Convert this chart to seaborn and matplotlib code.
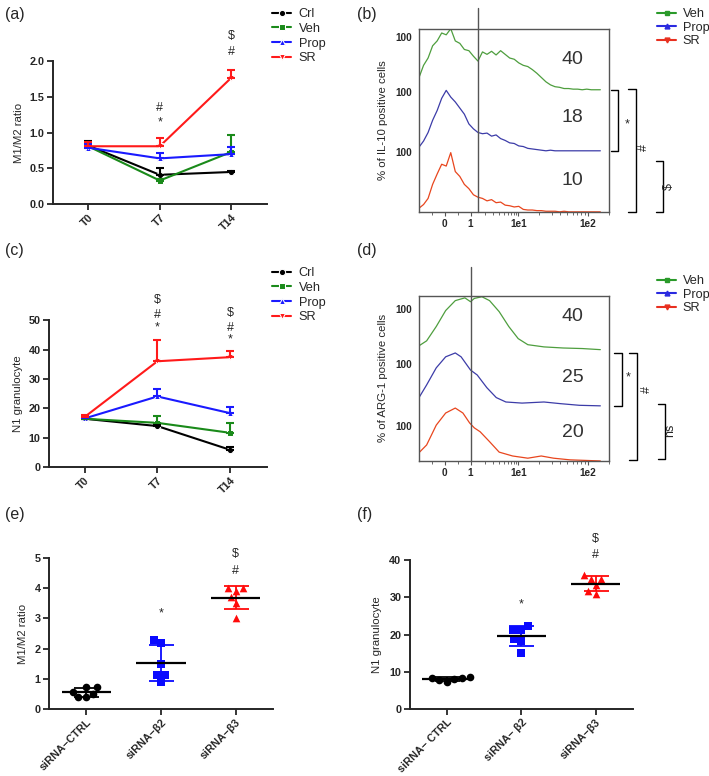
import numpy as np
import pandas as pd
import matplotlib
matplotlib.use("Agg")
import matplotlib.pyplot as plt
from matplotlib.lines import Line2D
import seaborn as sns

# ---------------- data ----------------
timepoints = ["T0", "T7", "T14"]
line_groups = ["Crl", "Veh", "Prop", "SR"]

# (a) M1/M2 ratio, mean and upper error
crl_m1m2 = [0.82, 0.41, 0.45]
veh_m1m2 = [0.81, 0.33, 0.73]
prop_m1m2 = [0.79, 0.64, 0.70]
sr_m1m2 = [0.81, 0.81, 1.77]
crl_m1m2_err = [0.06, 0.09, 0.01]
veh_m1m2_err = [0.05, 0.02, 0.24]
prop_m1m2_err = [0.05, 0.08, 0.10]
sr_m1m2_err = [0.06, 0.12, 0.11]
a_yticks = [0.0, 0.5, 1.0, 1.5, 2.0]
a_yticklabels = ["0.0", "0.5", "1.0", "1.5", "2.0"]
a_marks = [(1, 1.15, "*"), (1, 1.34, "#"), (2, 2.13, "#"), (2, 2.35, "$")]

# (c) N1 granulocyte
crl_n1 = [16.5, 14.0, 5.9]
veh_n1 = [16.5, 15.1, 11.7]
prop_n1 = [16.6, 24.1, 18.4]
sr_n1 = [17.1, 36.1, 37.5]
crl_n1_err = [0.8, 0.5, 0.9]
veh_n1_err = [0.5, 2.2, 3.4]
prop_n1_err = [0.5, 2.5, 2.1]
sr_n1_err = [0.6, 7.1, 2.0]
c_yticks = [0, 10, 20, 30, 40, 50]
c_marks = [(1, 47.6, "*"), (1, 52.0, "#"), (1, 57.0, "$"),
           (2, 43.5, "*"), (2, 47.6, "#"), (2, 52.7, "$")]

# (b) IL-10 flow histograms (relative heights)
b_x = [0, 2.5, 5, 7.5, 10, 12.5, 15, 17.5, 20, 22.5, 25, 27.5, 30, 32.5, 35,
       37.5, 40, 42.5, 45, 47.5, 50, 52.5, 55, 57.5, 60, 62.5, 65, 67.5, 70,
       72.5, 75, 77.5, 80, 82.5, 85, 87.5, 90, 92.5, 95, 97.5, 100]
b_veh = [0.20, 0.40, 0.52, 0.72, 0.80, 0.93, 0.90, 1.00, 0.80, 0.76, 0.66,
         0.64, 0.55, 0.47, 0.62, 0.58, 0.63, 0.57, 0.64, 0.58, 0.52, 0.50,
         0.44, 0.40, 0.38, 0.33, 0.27, 0.20, 0.13, 0.08, 0.05, 0.04, 0.02,
         0.02, 0.01, 0.01, 0.0, 0.01, 0.0, 0.0, 0.0]
b_prop = [0.06, 0.16, 0.30, 0.50, 0.66, 0.86, 0.99, 0.88, 0.80, 0.70, 0.60,
          0.44, 0.36, 0.30, 0.28, 0.29, 0.24, 0.26, 0.20, 0.17, 0.13, 0.12,
          0.08, 0.07, 0.04, 0.03, 0.02, 0.01, 0.0, 0.01, 0.0, 0.0, 0.0, 0.0,
          0.0, 0.0, 0.0, 0.0, 0.0, 0.0, 0.0]
b_sr = [0.06, 0.12, 0.22, 0.45, 0.62, 0.78, 0.75, 0.97, 0.66, 0.58, 0.45,
        0.38, 0.28, 0.24, 0.22, 0.18, 0.20, 0.15, 0.16, 0.11, 0.10, 0.08,
        0.09, 0.04, 0.03, 0.03, 0.02, 0.02, 0.01, 0.01, 0.01, 0.0, 0.01,
        0.0, 0.0, 0.0, 0.0, 0.0, 0.0, 0.0, 0.0]
b_numbers = ["40", "18", "10"]

# (d) ARG-1 flow histograms
d_veh_x = [0, 4.2, 9.5, 14.7, 20, 25.3, 28.4, 30.5, 34.7, 38.9, 44.2, 49.5,
           54.7, 60, 68.9, 79.5, 90, 100]
d_veh = [0.09, 0.18, 0.44, 0.73, 0.91, 0.96, 0.89, 0.95, 0.98, 0.91, 0.71,
         0.44, 0.22, 0.11, 0.07, 0.05, 0.04, 0.02]
d_prop_x = [0, 4.2, 9.5, 14.7, 20, 23.2, 28.4, 32.1, 37.4, 42.6, 47.9, 56.8,
            68.9, 77.9, 88.4, 100]
d_prop = [0.15, 0.38, 0.69, 0.89, 0.96, 0.89, 0.65, 0.56, 0.33, 0.15, 0.07,
          0.05, 0.07, 0.04, 0.01, 0.0]
d_sr_x = [0, 4.2, 9.5, 14.7, 20, 24.2, 27.9, 30.5, 33.7, 38.9, 44.2, 51.6,
          60, 67.4, 74.2, 83.2, 100]
d_sr = [0.15, 0.29, 0.65, 0.87, 0.96, 0.87, 0.69, 0.60, 0.53, 0.35, 0.16,
        0.09, 0.05, 0.09, 0.05, 0.02, 0.0]
d_numbers = ["40", "25", "20"]
flow_groups = ["Veh", "Prop", "SR"]
flow_xticklabels = ["0", "1", "1e1", "1e2"]

# (e) M1/M2 ratio after siRNA
si_groups_e = ["siRNA\u2212CTRL", "siRNA\u2212\u03b22", "siRNA\u2212\u03b23"]
e_ctrl = [0.72, 0.72, 0.50, 0.58, 0.39, 0.40]
e_b2 = [2.20, 2.30, 1.50, 1.12, 1.12, 0.90]
e_b3 = [4.00, 4.00, 3.90, 3.70, 3.50, 3.00]
e_marks = [(1, 3.18, "*"), (2, 4.57, "#"), (2, 5.13, "$")]

# (f) N1 granulocyte after siRNA
si_groups_f = ["siRNA\u2212 CTRL", "siRNA\u2212 \u03b22", "siRNA\u2212\u03b23"]
f_ctrl = [8.3, 8.2, 7.2, 7.7, 8.1, 8.6]
f_b2 = [22.3, 21.2, 21.3, 18.9, 18.3, 15.0]
f_b3 = [35.0, 35.0, 36.0, 33.4, 31.8, 30.9]
f_marks = [(1, 28.2, "*"), (2, 41.3, "#"), (2, 45.6, "$")]

# ---------------- style ----------------
sns.set_style("ticks")
plt.rcParams["font.family"] = ["Liberation Sans", "DejaVu Sans"]
plt.rcParams["axes.linewidth"] = 1.4

line_palette = {"Crl": "#000000", "Veh": "#1a8a1a", "Prop": "#1a1aff", "SR": "#ff1a1a"}
line_markers = {"Crl": "o", "Veh": "s", "Prop": "^", "SR": "v"}
flow_line_colors = ["#4e9e3e", "#3c3ca8", "#e8461e"]
flow_leg_colors = ["#2a9a2a", "#2a2ae0", "#e83020"]
flow_leg_markers = ["s", "^", "v"]
si_colors = ["#000000", "#0a0aff", "#ff0a0a"]
si_markers = ["o", "s", "^"]

TICK_FS = 7.8
LABEL_FS = 8.2
LEG_FS = 9.2

fig = plt.figure(figsize=(7.09, 7.76), dpi=100)


def bold_ticks(ax):
    for lbl in ax.get_xticklabels() + ax.get_yticklabels():
        lbl.set_fontweight("bold")


def line_panel(ax, means, errs, ylim, yticks, yticklabels, ylabel, marks, leg_top):
    rows = []
    for g in line_groups:
        for i, tp in enumerate(timepoints):
            rows.append({"group": g, "pos": i, "value": means[g][i]})
    df = pd.DataFrame(rows)
    sns.lineplot(data=df, x="pos", y="value", hue="group", style="group",
                 hue_order=line_groups, style_order=line_groups,
                 markers=line_markers, dashes=False, palette=line_palette,
                 markersize=4.5, linewidth=1.5, ax=ax)
    for g in line_groups:
        ax.errorbar(range(len(timepoints)), means[g],
                    yerr=[np.zeros(len(timepoints)), errs[g]],
                    fmt="none", ecolor=line_palette[g], elinewidth=1.5,
                    capsize=3, capthick=1.5, clip_on=False)
    ax.set_xlim(-0.49, 2.5)
    ax.set_ylim(*ylim)
    ax.set_yticks(yticks)
    ax.set_yticklabels(yticklabels)
    ax.set_xticks(range(len(timepoints)))
    ax.set_xticklabels(timepoints, rotation=45, ha="right", rotation_mode="anchor")
    ax.set_xlabel("")
    ax.set_ylabel(ylabel, fontsize=LABEL_FS, labelpad=4)
    ax.tick_params(axis="both", width=1.3, length=4, labelsize=TICK_FS, pad=2)
    bold_ticks(ax)
    sns.despine(ax=ax)
    for x, y, s in marks:
        ax.text(x, y, s, ha="center", va="center", fontsize=9, clip_on=False)
    h, l = ax.get_legend_handles_labels()
    ax.legend(h, l, loc="upper left", bbox_to_anchor=(272 / 709, 1 - leg_top / 776),
              bbox_transform=fig.transFigure, frameon=False, fontsize=LEG_FS,
              handlelength=1.5, handletextpad=0.6, labelspacing=0.22, borderpad=0,
              borderaxespad=0)


def flow_panel(ax, traces, numbers, num_y, gate_x, gate_top, ytick_pos, ylabel,
               brackets, br_labels, leg_top):
    for k, (xs, hs) in enumerate(traces):
        offset = len(traces) - 1 - k
        sns.lineplot(x=xs, y=np.array(hs) + offset, color=flow_line_colors[k],
                     linewidth=0.9, ax=ax, sort=False)
    ax.set_xlim(0, 100)
    ax.set_ylim(0, 3)
    for sp in ax.spines.values():
        sp.set_color("#555555")
        sp.set_linewidth(1.0)
    ax.axvline(gate_x, ymin=0, ymax=gate_top, color="#555555", lw=1.0, clip_on=False)
    for s, y in zip(numbers, num_y):
        ax.text(84.7, y, s, ha="center", va="center", fontsize=14, color="#333333")
    major = [14.2, 28.4, 54.7, 93.2]
    ax.set_xticks(major)
    ax.set_xticklabels(flow_xticklabels)
    minor = [7.0, 21.3]
    for lo, hi in [(28.4, 54.7), (54.7, 93.2)]:
        minor += [lo + (hi - lo) * np.log10(m) for m in range(2, 10)]
    minor += [93.2 + 38.5 * np.log10(m) for m in range(2, 3)]
    ax.set_xticks(minor, minor=True)
    ax.set_yticks(ytick_pos)
    ax.set_yticklabels(["100"] * len(ytick_pos))
    ax.tick_params(axis="both", which="major", width=0.8, length=3, labelsize=7.2,
                   pad=2, color="#555555")
    ax.tick_params(axis="x", which="minor", width=0.6, length=2, color="#555555")
    ax.tick_params(axis="y", which="major", length=0, pad=5)
    bold_ticks(ax)
    ax.set_ylabel(ylabel, fontsize=LABEL_FS, labelpad=5)
    for (bx, y0, y1) in brackets:
        ax.plot([bx - 4.2, bx, bx, bx - 4.2], [y0, y0, y1, y1], color="black",
                lw=1.0, clip_on=False)
    for (tx, ty, s, rot) in br_labels:
        ax.text(tx, ty, s, ha="center", va="center", fontsize=9, rotation=rot,
                clip_on=False)
    handles = [Line2D([], [], color=c, marker=m, markersize=3.5, lw=1.5)
               for c, m in zip(flow_leg_colors, flow_leg_markers)]
    ax.legend(handles, flow_groups, loc="upper left",
              bbox_to_anchor=(657 / 709, 1 - leg_top / 776),
              bbox_transform=fig.transFigure, frameon=False, fontsize=LEG_FS,
              handlelength=1.5, handletextpad=0.5, labelspacing=0.12, borderpad=0,
              borderaxespad=0)


def scatter_panel(ax, groups, values, ylim, yticks, ylabel, marks):
    rows = []
    for g, vals in zip(groups, values):
        for v in vals:
            rows.append({"group": g, "value": v})
    df = pd.DataFrame(rows)
    for i, g in enumerate(groups):
        sns.swarmplot(data=df[df["group"] == g], x="group", y="value", order=groups,
                      marker=si_markers[i], color=si_colors[i], size=5.5, ax=ax,
                      zorder=3, linewidth=0)
    for i, vals in enumerate(values):
        m = np.mean(vals)
        sd = np.std(vals, ddof=1)
        ax.errorbar(i, m, yerr=sd, color=si_colors[i], capsize=9, elinewidth=1.3,
                    capthick=1.3, zorder=2)
        ax.hlines(m, i - 0.33, i + 0.33, color="black", lw=1.6, zorder=4)
    ax.set_xlim(-0.5, 2.5)
    ax.set_ylim(*ylim)
    ax.set_yticks(yticks)
    ax.set_xticks(range(len(groups)))
    ax.set_xticklabels(groups, rotation=45, ha="right", rotation_mode="anchor")
    ax.set_xlabel("")
    ax.set_ylabel(ylabel, fontsize=LABEL_FS, labelpad=5)
    ax.tick_params(axis="both", width=1.3, length=4, labelsize=TICK_FS, pad=2)
    bold_ticks(ax)
    sns.despine(ax=ax)
    for x, y, s in marks:
        ax.text(x, y, s, ha="center", va="center", fontsize=9, clip_on=False)


# (a)
ax_a = fig.add_axes([0.0748, 0.737, 0.302, 0.184])
line_panel(ax_a,
           {"Crl": crl_m1m2, "Veh": veh_m1m2, "Prop": prop_m1m2, "SR": sr_m1m2},
           {"Crl": crl_m1m2_err, "Veh": veh_m1m2_err, "Prop": prop_m1m2_err, "SR": sr_m1m2_err},
           (0, 2.0), a_yticks, a_yticklabels, "M1/M2 ratio", a_marks, 8)

# (c)
ax_c = fig.add_axes([0.069, 0.398, 0.307, 0.189])
line_panel(ax_c,
           {"Crl": crl_n1, "Veh": veh_n1, "Prop": prop_n1, "SR": sr_n1},
           {"Crl": crl_n1_err, "Veh": veh_n1_err, "Prop": prop_n1_err, "SR": sr_n1_err},
           (0, 50), c_yticks, [str(v) for v in c_yticks], "N1 granulocyte", c_marks, 267)

# (b)
ax_b = fig.add_axes([0.591, 0.727, 0.268, 0.236])
flow_panel(ax_b, [(b_x, b_veh), (b_x, b_prop), (b_x, b_sr)], b_numbers,
           [2.49, 1.54, 0.52], 32.6, 1.115, [0.98, 1.97, 2.87],
           "% of IL-10 positive cells",
           [(110, 2.0, 1.0), (119.5, 2.02, 0.0), (134.7, 0.84, 0.0)],
           [(114.7, 1.44, "*", 0), (124.2, 1.05, "#", 90), (137.6, 0.41, "$", 90)],
           8)

# (d)
ax_d = fig.add_axes([0.591, 0.406, 0.268, 0.213])
flow_panel(ax_d, [(d_veh_x, d_veh), (d_prop_x, d_prop), (d_sr_x, d_sr)], d_numbers,
           [2.62, 1.51, 0.51], 28.4, 1.176, [0.64, 1.76, 2.75],
           "% of ARG-1 positive cells",
           [(112, 1.96, 1.0), (120, 1.96, 0.02), (135.8, 1.04, 0.04)],
           [(115.3, 1.51, "*", 0), (125.8, 1.29, "#", 90), (138.6, 0.56, "ns", 90)],
           275)

# (e)
ax_e = fig.add_axes([0.069, 0.0863, 0.316, 0.1946])
scatter_panel(ax_e, si_groups_e, [e_ctrl, e_b2, e_b3], (0, 5), [0, 1, 2, 3, 4, 5],
              "M1/M2 ratio", e_marks)

# (f)
ax_f = fig.add_axes([0.578, 0.0863, 0.3145, 0.192])
scatter_panel(ax_f, si_groups_f, [f_ctrl, f_b2, f_b3], (0, 40), [0, 10, 20, 30, 40],
              "N1 granulocyte", f_marks)

# panel labels
for x, y, s in [(5, 14, "(a)"), (357, 14, "(b)"), (5, 250, "(c)"), (357, 250, "(d)"),
                (5, 515, "(e)"), (357, 515, "(f)")]:
    fig.text(x / 709, 1 - y / 776, s, fontsize=11.5, ha="left", va="center")

fig.savefig("out.png", dpi=100)
